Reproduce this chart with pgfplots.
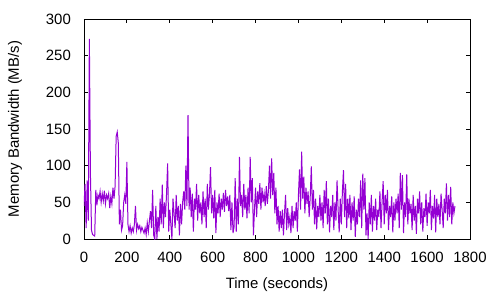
\documentclass[border=0pt]{standalone}
\usepackage{fontspec}
\setmainfont{Liberation Sans}
\usepackage{pgfplots}
\pgfplotsset{compat=1.18}
\definecolor{gpviolet}{HTML}{9400D3}
\begin{document}
\fontsize{15}{17}\selectfont
\begin{tikzpicture}
\path[use as bounding box] (-84bp,-61bp) rectangle (416bp,239bp);
\begin{axis}[
  at={(0,0)}, anchor=south west,
  scale only axis, width=386bp, height=220bp,
  xmin=0, xmax=1800, ymin=0, ymax=300,
  xtick={0,200,...,1800}, ytick={0,50,...,300},
  tick align=inside, xtick pos=both, ytick pos=both,
  major tick length=4bp,
  axis line style={line width=0.9bp},
  every tick/.style={black, line width=0.9bp},
  /pgf/number format/assume math mode=true,
  /pgf/number format/1000 sep={},
  ticklabel style={font=\fontsize{15}{17}\selectfont},
  xticklabel style={yshift=-8bp},
  yticklabel style={xshift=-8bp},
  xlabel={Time (seconds)}, ylabel={Memory Bandwidth (MB/s)},
  label style={font=\fontsize{15}{17}\selectfont},
  xlabel style={at={(axis description cs:0.5,0)}, anchor=center, yshift=-46bp},
  ylabel style={at={(axis description cs:0,0.5)}, anchor=center, rotate=0, yshift=69bp},
  clip=true,
]
\addplot[gpviolet, line width=1bp, mark=none] table[x expr=\coordindex*5, y index=0, header=false] {
45
75
15
80
25
273
88
12
6
5
4
67
46
60
55
65
50
62
52
66
48
60
55
62
42
58
48
70
55
72
140
146
131
20
40
12
18
50
60
48
105
20
10
18
8
15
10
20
45
12
20
14
18
10
16
12
8
15
6
22
10
25
38
15
67
5
0
45
0
30
10
55
20
74
15
50
30
62
103
10
40
20
0
55
35
15
60
25
45
5
48
20
50
65
40
100
45
169
40
70
30
62
10
55
40
75
25
60
35
50
20
65
30
55
15
75
40
60
98
35
60
28
67
8
50
35
62
30
55
40
63
37
67
45
58
38
60
12
50
8
17
83
10
55
20
112
45
60
30
75
40
60
28
70
35
112
50
83
5
40
70
30
65
48
76
40
70
50
62
45
72
48
66
100
55
110
60
90
35
70
20
45
10
38
15
40
5
35
60
12
42
20
30
8
45
15
38
25
50
10
60
95
40
119
55
85
35
70
48
65
30
58
99
40
67
20
55
13
45
30
60
25
50
15
67
35
79
20
55
9
45
30
60
12
50
25
80
40
9
55
20
65
94
30
75
15
55
28
60
12
50
25
58
3
40
20
55
30
80
15
89
40
83
5
35
0
50
20
60
10
45
25
55
12
40
30
65
15
50
79
20
60
35
67
12
45
30
58
9
50
25
55
35
62
15
90
40
87
8
50
30
88
20
55
35
48
12
60
25
45
7
55
35
65
20
50
10
42
30
62
18
50
35
67
12
45
28
60
9
55
30
48
20
62
40
15
55
35
76
25
60
30
71
20
50
35
45
};
\end{axis}
\end{tikzpicture}
\end{document}
